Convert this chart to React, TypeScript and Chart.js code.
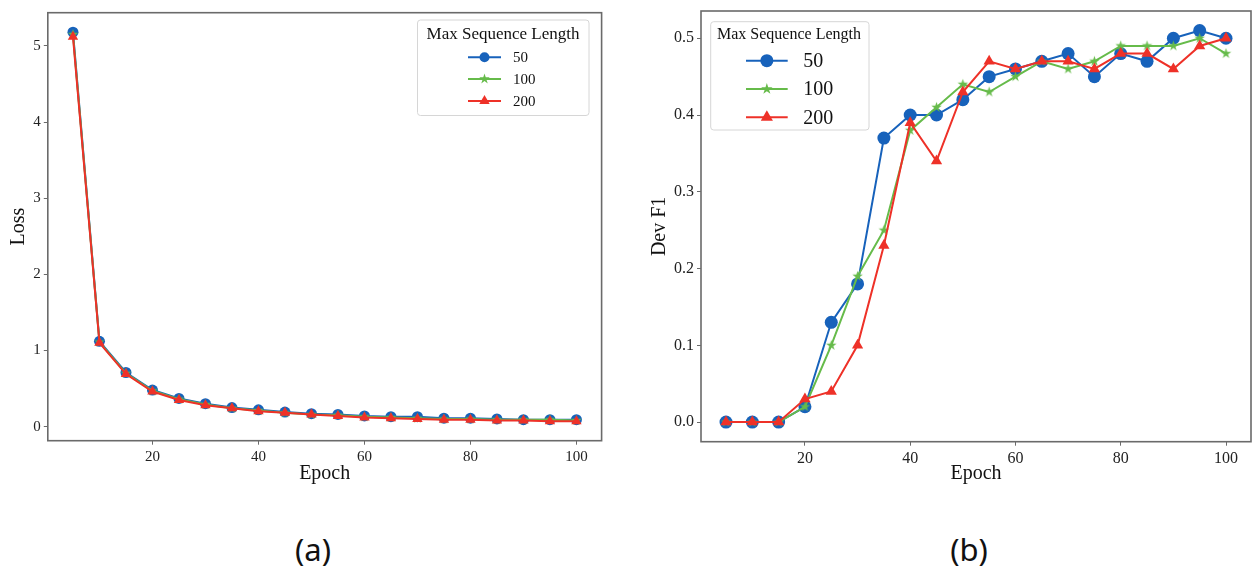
import React, { useEffect, useRef } from 'react';
import { Chart, registerables } from 'chart.js';

Chart.register(...registerables);

// ---------- data ----------
const epochs = [5, 10, 15, 20, 25, 30, 35, 40, 45, 50, 55, 60, 65, 70, 75, 80, 85, 90, 95, 100];
const seqLabels = ['50', '100', '200'];

const loss50 = [5.18, 1.12, 0.71, 0.48, 0.37, 0.30, 0.25, 0.22, 0.19, 0.17, 0.16, 0.14, 0.13, 0.13, 0.11, 0.11, 0.10, 0.09, 0.09, 0.09];
const loss100 = [5.15, 1.11, 0.70, 0.47, 0.36, 0.29, 0.24, 0.21, 0.18, 0.16, 0.15, 0.13, 0.12, 0.11, 0.10, 0.10, 0.09, 0.09, 0.09, 0.08];
const loss200 = [5.12, 1.10, 0.69, 0.46, 0.35, 0.28, 0.24, 0.20, 0.18, 0.16, 0.14, 0.12, 0.11, 0.10, 0.09, 0.09, 0.08, 0.08, 0.07, 0.07];

const f1Len50 = [0, 0, 0, 0.02, 0.13, 0.18, 0.37, 0.40, 0.40, 0.42, 0.45, 0.46, 0.47, 0.48, 0.45, 0.48, 0.47, 0.50, 0.51, 0.50];
const f1Len100 = [0, 0, 0, 0.02, 0.10, 0.19, 0.25, 0.38, 0.41, 0.44, 0.43, 0.45, 0.47, 0.46, 0.47, 0.49, 0.49, 0.49, 0.50, 0.48];
const f1Len200 = [0, 0, 0, 0.03, 0.04, 0.10, 0.23, 0.39, 0.34, 0.43, 0.47, 0.46, 0.47, 0.47, 0.46, 0.48, 0.48, 0.46, 0.49, 0.50];

const xTicks = [20, 40, 60, 80, 100];
const lossTicks = [0, 1, 2, 3, 4, 5];
const f1Ticks = [0, 0.1, 0.2, 0.3, 0.4, 0.5];

const legendTitle = 'Max Sequence Length';
const panelLabels = ['(a)', '(b)'];

// ---------- styles ----------
const BLUE = '#1762bb';
const GREEN = '#66bb4a';
const RED = '#ee3128';
const SERIF = '"Liberation Serif", "Times New Roman", serif';

function starPath(ctx: CanvasRenderingContext2D, cx: number, cy: number, R: number) {
  const r = R * 0.382;
  ctx.beginPath();
  for (let i = 0; i < 10; i++) {
    const ang = -Math.PI / 2 + (i * Math.PI) / 5;
    const rad = i % 2 === 0 ? R : r;
    const px = cx + rad * Math.cos(ang);
    const py = cy + rad * Math.sin(ang);
    if (i === 0) ctx.moveTo(px, py);
    else ctx.lineTo(px, py);
  }
  ctx.closePath();
}

function makeStar(R: number, color: string) {
  const c = document.createElement('canvas');
  const s = Math.ceil(2 * R + 2);
  c.width = s;
  c.height = s;
  const g = c.getContext('2d')!;
  g.fillStyle = color;
  starPath(g, s / 2, s / 2, R);
  g.fill();
  return c;
}

function drawMarker(ctx: CanvasRenderingContext2D, kind: string, x: number, y: number, r: number, color: string) {
  ctx.fillStyle = color;
  if (kind === 'circle') {
    ctx.beginPath();
    ctx.arc(x, y, r, 0, Math.PI * 2);
    ctx.fill();
  } else if (kind === 'triangle') {
    ctx.beginPath();
    for (let i = 0; i < 3; i++) {
      const a = (i * 2 * Math.PI) / 3;
      const px = x + Math.sin(a) * r;
      const py = y - Math.cos(a) * r;
      if (i === 0) ctx.moveTo(px, py);
      else ctx.lineTo(px, py);
    }
    ctx.closePath();
    ctx.fill();
  } else {
    starPath(ctx, x, y, r);
    ctx.fill();
  }
}

const framePlugin = {
  id: 'frameBox',
  afterDatasetsDraw(chart: any) {
    const { ctx, chartArea } = chart;
    ctx.save();
    ctx.strokeStyle = '#6a6a6a';
    ctx.lineWidth = 1.6;
    ctx.strokeRect(chartArea.left, chartArea.top, chartArea.right - chartArea.left, chartArea.bottom - chartArea.top);
    ctx.restore();
  },
};

const legendPlugin = {
  id: 'seqLegend',
  afterDraw(chart: any, _args: any, o: any) {
    if (!o || !o.box) return;
    const ctx: CanvasRenderingContext2D = chart.ctx;
    const [bx, by, bw, bh] = o.box;
    ctx.save();
    ctx.beginPath();
    const rr = 3;
    ctx.moveTo(bx + rr, by);
    ctx.lineTo(bx + bw - rr, by);
    ctx.quadraticCurveTo(bx + bw, by, bx + bw, by + rr);
    ctx.lineTo(bx + bw, by + bh - rr);
    ctx.quadraticCurveTo(bx + bw, by + bh, bx + bw - rr, by + bh);
    ctx.lineTo(bx + rr, by + bh);
    ctx.quadraticCurveTo(bx, by + bh, bx, by + bh - rr);
    ctx.lineTo(bx, by + rr);
    ctx.quadraticCurveTo(bx, by, bx + rr, by);
    ctx.closePath();
    ctx.fillStyle = 'rgba(255,255,255,0.85)';
    ctx.fill();
    ctx.strokeStyle = '#d6d6d6';
    ctx.lineWidth = 1;
    ctx.stroke();

    ctx.fillStyle = '#111';
    ctx.font = `${o.titleSize}px ${SERIF}`;
    ctx.textAlign = 'center';
    ctx.textBaseline = 'middle';
    ctx.fillText(legendTitle, o.titleX, o.titleY);

    ctx.font = `${o.entrySize}px ${SERIF}`;
    ctx.textAlign = 'left';
    chart.data.datasets.forEach((ds: any, i: number) => {
      const y = o.rows[i];
      ctx.strokeStyle = ds.borderColor;
      ctx.lineWidth = 2;
      ctx.beginPath();
      ctx.moveTo(o.lineX1, y);
      ctx.lineTo(o.lineX2, y);
      ctx.stroke();
      drawMarker(ctx, ds.markerKind, (o.lineX1 + o.lineX2) / 2, y, o.markerR[i], ds.borderColor);
      ctx.fillStyle = '#111';
      ctx.fillText(ds.label, o.textX, y + 1);
    });
    ctx.restore();
  },
};

function buildDatasets(series: number[][], radii: number[]) {
  const colors = [BLUE, GREEN, RED];
  const kinds = ['circle', 'star', 'triangle'];
  return series.map((vals, i) => {
    const style: any = kinds[i] === 'star' ? makeStar(radii[i], colors[i]) : kinds[i];
    return {
      label: seqLabels[i],
      data: vals.map((v, j) => ({ x: epochs[j], y: v })),
      borderColor: colors[i],
      backgroundColor: colors[i],
      pointBackgroundColor: colors[i],
      pointBorderWidth: 0,
      pointBorderColor: colors[i],
      borderWidth: 2,
      pointStyle: style,
      pointRadius: radii[i],
      pointHoverRadius: radii[i],
      markerKind: kinds[i],
      order: 2 - i,
      tension: 0,
    };
  });
}

interface PanelCfg {
  series: number[][];
  radii: number[];
  yMin: number;
  yMax: number;
  yTicks: number[];
  yFmt: (v: number) => string;
  yTitle: string;
  yTitlePad: number;
  yWidth: number;
  xHeight: number;
  tickSize: number;
  padding: { left: number; top: number; right: number; bottom: number };
  legend: any;
}

function makeConfig(p: PanelCfg): any {
  const tickFont = { family: SERIF, size: p.tickSize };
  const titleFont = { family: SERIF, size: 20 };
  return {
    type: 'line',
    data: { datasets: buildDatasets(p.series, p.radii) },
    options: {
      animation: false,
      responsive: false,
      maintainAspectRatio: false,
      layout: { padding: p.padding, autoPadding: false },
      plugins: {
        legend: { display: false },
        tooltip: { enabled: false },
        seqLegend: p.legend,
      },
      scales: {
        x: {
          type: 'linear',
          min: 0.25,
          max: 104.75,
          afterBuildTicks: (s: any) => {
            s.ticks = xTicks.map((v) => ({ value: v }));
          },
          afterFit: (s: any) => {
            s.height = p.xHeight;
            s.paddingLeft = 0;
            s.paddingRight = 0;
          },
          ticks: { font: tickFont, color: '#222', padding: 3, maxRotation: 0, autoSkip: false, callback: (v: any) => String(v) },
          grid: { display: true, drawOnChartArea: false, drawTicks: true, tickLength: 4, color: '#6a6a6a', lineWidth: 1 },
          border: { display: false },
          title: { display: true, text: 'Epoch', font: titleFont, color: '#111', padding: { top: 0, bottom: 14 } },
        },
        y: {
          type: 'linear',
          min: p.yMin,
          max: p.yMax,
          afterBuildTicks: (s: any) => {
            s.ticks = p.yTicks.map((v) => ({ value: v }));
          },
          afterFit: (s: any) => {
            s.width = p.yWidth;
            s.paddingTop = 0;
            s.paddingBottom = 0;
          },
          ticks: { font: tickFont, color: '#222', padding: 3, autoSkip: false, callback: (v: any) => p.yFmt(Number(v)) },
          grid: { display: true, drawOnChartArea: false, drawTicks: true, tickLength: 4, color: '#6a6a6a', lineWidth: 1 },
          border: { display: false },
          title: { display: true, text: p.yTitle, font: titleFont, color: '#111', padding: { top: p.yTitlePad, bottom: 0 } },
        },
      },
    },
    plugins: [framePlugin, legendPlugin],
  };
}

function Panel({ cfg, left }: { cfg: PanelCfg; left: number }) {
  const ref = useRef<HTMLCanvasElement | null>(null);
  useEffect(() => {
    if (!ref.current) return;
    const chart = new Chart(ref.current, makeConfig(cfg));
    return () => chart.destroy();
  }, [cfg]);
  return (
    <canvas
      ref={ref}
      width={622}
      height={500}
      style={{ position: 'absolute', left, top: 0, width: 622, height: 500 }}
    />
  );
}

const lossCfg: PanelCfg = {
  series: [loss50, loss100, loss200],
  radii: [5.5, 5.5, 6],
  yMin: -0.1855,
  yMax: 5.4355,
  yTicks: lossTicks,
  yFmt: (v) => String(v),
  yTitle: 'Loss',
  yTitlePad: 7,
  yWidth: 47.8,
  xHeight: 59.3,
  tickSize: 15,
  padding: { left: 0, top: 12.7, right: 20.4, bottom: 0 },
  legend: {
    box: [417.5, 20, 171.5, 95.5],
    titleSize: 17,
    titleX: 503,
    titleY: 34.5,
    entrySize: 15,
    lineX1: 468,
    lineX2: 501,
    textX: 513,
    rows: [57.3, 79, 101],
    markerR: [5, 5.5, 6],
  },
};

const f1Cfg: PanelCfg = {
  series: [f1Len50, f1Len100, f1Len200],
  radii: [6.5, 5.5, 6.5],
  yMin: -0.0255,
  yMax: 0.5355,
  yTicks: f1Ticks,
  yFmt: (v) => v.toFixed(1),
  yTitle: 'Dev F1',
  yTitlePad: 18,
  yWidth: 71,
  xHeight: 58.3,
  tickSize: 16,
  padding: { left: 0, top: 11, right: 1, bottom: 0 },
  legend: {
    box: [80.7, 21.7, 158.3, 108.3],
    titleSize: 16,
    titleX: 159,
    titleY: 35,
    entrySize: 20,
    lineX1: 116,
    lineX2: 157.7,
    textX: 173.3,
    rows: [60.7, 89, 117.3],
    markerR: [6.5, 6, 7],
  },
};

export default function App() {
  return (
    <div style={{ position: 'absolute', left: 0, top: 0, width: 1252, height: 572, background: '#fff', overflow: 'hidden' }}>
      <Panel cfg={lossCfg} left={0} />
      <Panel cfg={f1Cfg} left={630} />
      {panelLabels.map((t, i) => (
        <div
          key={t}
          style={{
            position: 'absolute',
            left: (i === 0 ? 313 : 969) - 60,
            width: 120,
            top: 529,
            lineHeight: '40px',
            textAlign: 'center',
            fontFamily: '"Noto Sans", "Open Sans", sans-serif',
            fontSize: 31,
            color: '#111',
          }}
        >
          {t}
        </div>
      ))}
    </div>
  );
}
